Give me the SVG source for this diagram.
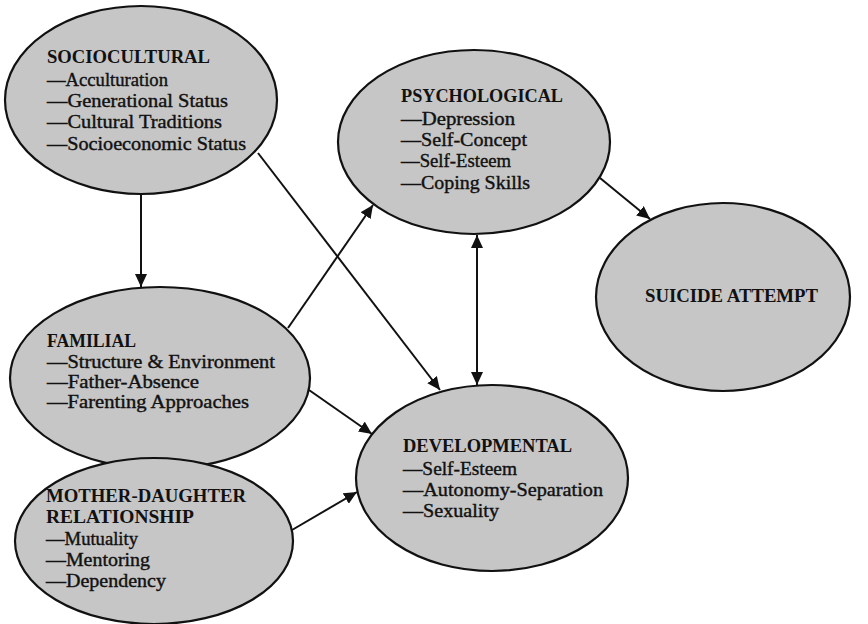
<svg xmlns="http://www.w3.org/2000/svg" width="868" height="624" viewBox="0 0 868 624">
<defs>
<marker id="ah" markerUnits="userSpaceOnUse" markerWidth="14" markerHeight="12" refX="13" refY="6" orient="auto-start-reverse">
<path d="M0,0 L13,6 L0,12 z" fill="#111"/>
</marker>
</defs>
<style>
.node ellipse{fill:#c6c6c6;stroke:#111;stroke-width:2.2}
.h{font-family:"Liberation Serif",serif;font-weight:bold;font-size:18px;fill:#111}
.t{font-family:"Liberation Serif",serif;font-size:19px;fill:#111;stroke:#111;stroke-width:0.4}
.edge{stroke:#111;stroke-width:2;fill:none}
</style>
<rect width="868" height="624" fill="#fff"/>
<g id="sociocultural" class="node">
<ellipse cx="141" cy="100" rx="136" ry="94"/>
<text class="h" x="47" y="63" textLength="163" lengthAdjust="spacingAndGlyphs">SOCIOCULTURAL</text>
<text class="t" x="47" y="86" textLength="121" lengthAdjust="spacingAndGlyphs">—Acculturation</text>
<text class="t" x="47" y="107" textLength="181" lengthAdjust="spacingAndGlyphs">—Generational Status</text>
<text class="t" x="47" y="128" textLength="175" lengthAdjust="spacingAndGlyphs">—Cultural Traditions</text>
<text class="t" x="47" y="150" textLength="199" lengthAdjust="spacingAndGlyphs">—Socioeconomic Status</text>
</g>
<g id="psychological" class="node">
<ellipse cx="474" cy="142" rx="136" ry="92"/>
<text class="h" x="401" y="102" textLength="162" lengthAdjust="spacingAndGlyphs">PSYCHOLOGICAL</text>
<text class="t" x="401" y="125" textLength="114" lengthAdjust="spacingAndGlyphs">—Depression</text>
<text class="t" x="401" y="146" textLength="126" lengthAdjust="spacingAndGlyphs">—Self-Concept</text>
<text class="t" x="401" y="167" textLength="110" lengthAdjust="spacingAndGlyphs">—Self-Esteem</text>
<text class="t" x="401" y="189" textLength="129" lengthAdjust="spacingAndGlyphs">—Coping Skills</text>
</g>
<g id="suicide" class="node">
<ellipse cx="723" cy="297" rx="127" ry="94"/>
<text class="h" x="645" y="302" textLength="173" lengthAdjust="spacingAndGlyphs">SUICIDE ATTEMPT</text>
</g>
<g id="familial" class="node">
<ellipse cx="160" cy="378" rx="150" ry="91"/>
<text class="h" x="47" y="347" textLength="89" lengthAdjust="spacingAndGlyphs">FAMILIAL</text>
<text class="t" x="47" y="368" textLength="228" lengthAdjust="spacingAndGlyphs">—Structure &amp; Environment</text>
<text class="t" x="47" y="388" textLength="152" lengthAdjust="spacingAndGlyphs">—Father-Absence</text>
<text class="t" x="47" y="408" textLength="202" lengthAdjust="spacingAndGlyphs">—Farenting Approaches</text>
</g>
<g id="mother-daughter" class="node">
<ellipse cx="154" cy="541" rx="139" ry="83"/>
<text class="h" x="46" y="502" textLength="200" lengthAdjust="spacingAndGlyphs">MOTHER-DAUGHTER</text>
<text class="h" x="46" y="523" textLength="148" lengthAdjust="spacingAndGlyphs">RELATIONSHIP</text>
<text class="t" x="46" y="545" textLength="92" lengthAdjust="spacingAndGlyphs">—Mutuality</text>
<text class="t" x="46" y="566" textLength="104" lengthAdjust="spacingAndGlyphs">—Mentoring</text>
<text class="t" x="46" y="587" textLength="120" lengthAdjust="spacingAndGlyphs">—Dependency</text>
</g>
<g id="developmental" class="node">
<ellipse cx="492" cy="478" rx="136" ry="93"/>
<text class="h" x="403" y="452" textLength="169" lengthAdjust="spacingAndGlyphs">DEVELOPMENTAL</text>
<text class="t" x="403" y="475" textLength="114" lengthAdjust="spacingAndGlyphs">—Self-Esteem</text>
<text class="t" x="403" y="496" textLength="200" lengthAdjust="spacingAndGlyphs">—Autonomy-Separation</text>
<text class="t" x="403" y="517" textLength="96" lengthAdjust="spacingAndGlyphs">—Sexuality</text>
</g>
<g id="connectors">
<line class="edge" x1="141" y1="194" x2="141" y2="287" marker-end="url(#ah)"/>
<line class="edge" x1="258" y1="153" x2="440" y2="390" marker-end="url(#ah)"/>
<line class="edge" x1="288" y1="328" x2="373" y2="205" marker-end="url(#ah)"/>
<line class="edge" x1="309" y1="390" x2="372" y2="434" marker-end="url(#ah)"/>
<line class="edge" x1="292" y1="530" x2="357" y2="492" marker-end="url(#ah)"/>
<line class="edge" x1="477" y1="235" x2="477" y2="385" marker-start="url(#ah)" marker-end="url(#ah)"/>
<line class="edge" x1="600" y1="178" x2="650" y2="219" marker-end="url(#ah)"/>
</g>
</svg>
